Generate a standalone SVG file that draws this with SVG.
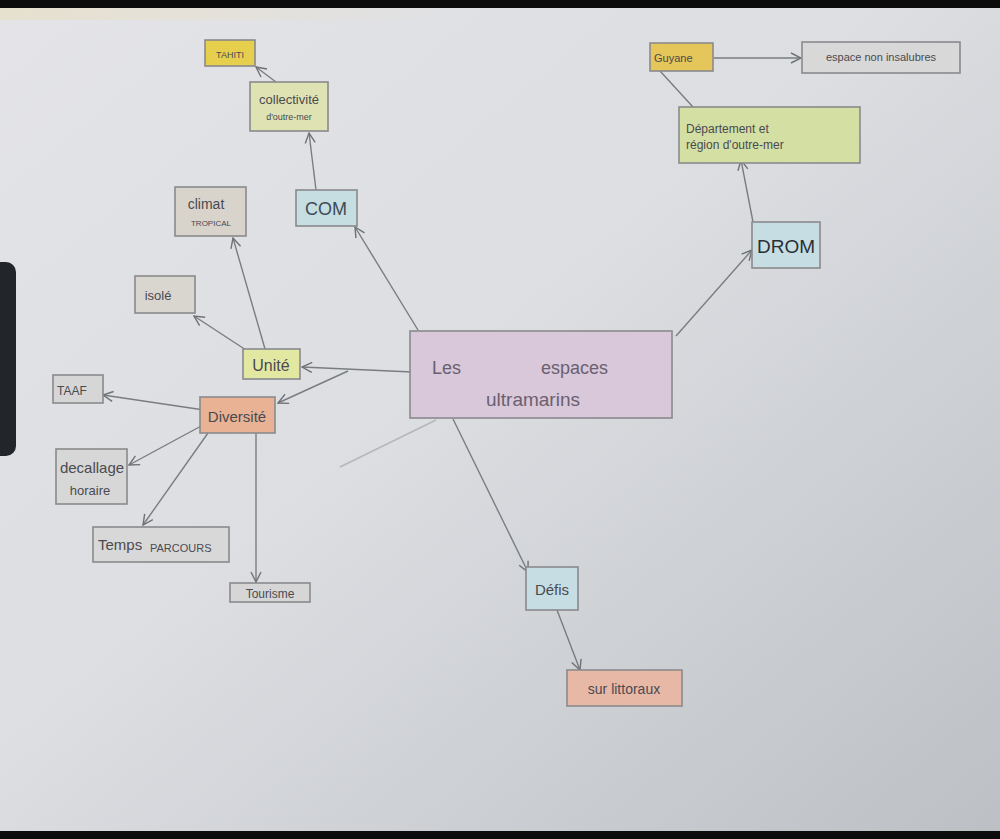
<svg xmlns="http://www.w3.org/2000/svg" width="1000" height="839" viewBox="0 0 1000 839">
<defs>
<linearGradient id="paper" x1="0" y1="0" x2="1" y2="1">
<stop offset="0" stop-color="#e4e4e8"/>
<stop offset="0.45" stop-color="#dcdee2"/>
<stop offset="1" stop-color="#bcbfc3"/>
</linearGradient>
<linearGradient id="topglow" x1="0" y1="0" x2="1" y2="0">
<stop offset="0" stop-color="#e8dfc4" stop-opacity="0.7"/>
<stop offset="1" stop-color="#e8dfc4" stop-opacity="0"/>
</linearGradient>
<marker id="arr" viewBox="0 0 12 12" refX="11" refY="6" markerWidth="12" markerHeight="12" markerUnits="userSpaceOnUse" orient="auto">
<path d="M1,1 L11,6 L1,11" fill="none" stroke="#6f7275" stroke-width="1.4"/>
</marker>
<style>
.box{stroke:#8a8a8c;stroke-width:1.6}
.t{font-family:"Liberation Sans",Arial,sans-serif}
.c{fill:none;stroke:#7a7d80;stroke-width:1.4}
.ca{fill:none;stroke:#7a7d80;stroke-width:1.4;marker-end:url(#arr)}
</style>
</defs>
<rect x="0" y="0" width="1000" height="839" fill="url(#paper)"/>
<rect x="0" y="8" width="460" height="12" fill="url(#topglow)"/>
<rect x="0" y="0" width="1000" height="8" fill="#0c0c0c"/>
<rect x="0" y="831" width="1000" height="8" fill="#0c0c0c"/>
<rect x="-12" y="262" width="28" height="194" rx="10" fill="#22262a"/>

<g id="connectors">
<line class="ca" x1="418" y1="330" x2="355" y2="227"/>
<line class="ca" x1="316" y1="190" x2="309" y2="133"/>
<line class="ca" x1="276" y1="82" x2="256" y2="67"/>
<line class="ca" x1="412" y1="372" x2="302" y2="367"/>
<line class="ca" x1="265" y1="349" x2="233" y2="238"/>
<line class="ca" x1="246" y1="350" x2="194" y2="316"/>
<line class="ca" x1="348" y1="371" x2="278" y2="403"/>
<line class="ca" x1="204" y1="410" x2="103" y2="395"/>
<line class="ca" x1="203" y1="425" x2="129" y2="465"/>
<line class="ca" x1="208" y1="433" x2="143" y2="525"/>
<line class="ca" x1="256" y1="433" x2="256" y2="582"/>
<line class="c" x1="340" y1="467" x2="436" y2="420" stroke-opacity="0.4"/>
<line class="ca" x1="453" y1="419" x2="528" y2="572"/>
<line class="ca" x1="557" y1="610" x2="580" y2="670"/>
<line class="ca" x1="676" y1="336" x2="752" y2="250"/>
<line class="ca" x1="753" y1="222" x2="741" y2="160"/>
<line class="c" x1="660" y1="71" x2="693" y2="107"/>
<line class="ca" x1="714" y1="58" x2="801" y2="58"/>
</g>

<g class="t" fill="#4a4a50">
<g id="n-tahiti"><rect class="box" x="205" y="40" width="50" height="26" fill="#e6cf4c"/><text x="230" y="58" text-anchor="middle" font-size="9">TAHITI</text></g>
<g id="n-collectivite"><rect class="box" x="250" y="82" width="78" height="49" fill="#dfe2b2"/><text x="289" y="104" text-anchor="middle" font-size="13">collectivité</text><text x="289" y="120" text-anchor="middle" font-size="9">d'outre-mer</text></g>
<g id="n-com"><rect class="box" x="296" y="190" width="61" height="36" fill="#c6dde2"/><text x="326" y="215" text-anchor="middle" font-size="18" fill="#3e4a55">COM</text></g>
<g id="n-climat"><rect class="box" x="175" y="187" width="71" height="49" fill="#d8d3cb"/><text x="206" y="209" text-anchor="middle" font-size="14">climat</text><text x="211" y="226" text-anchor="middle" font-size="8">TROPICAL</text></g>
<g id="n-isole"><rect class="box" x="135" y="276" width="60" height="37" fill="#d9d5cf"/><text x="158" y="300" text-anchor="middle" font-size="13">isolé</text></g>
<g id="n-unite"><rect class="box" x="243" y="349" width="57" height="30" fill="#e2e8a2"/><text x="271" y="371" text-anchor="middle" font-size="16">Unité</text></g>
<g id="n-center"><rect class="box" x="410" y="331" width="262" height="87" fill="#d8c8da"/><text x="432" y="374" font-size="18" fill="#6a6070">Les</text><text x="541" y="374" font-size="18" fill="#6a6070">espaces</text><text x="533" y="406" text-anchor="middle" font-size="19" fill="#6a6070">ultramarins</text></g>
<g id="n-taaf"><rect class="box" x="53" y="375" width="50" height="28" fill="#d6d6d6"/><text x="57" y="395" font-size="12">TAAF</text></g>
<g id="n-diversite"><rect class="box" x="200" y="397" width="75" height="36" fill="#e9b294"/><text x="237" y="422" text-anchor="middle" font-size="15">Diversité</text></g>
<g id="n-decallage"><rect class="box" x="56" y="449" width="71" height="55" fill="#d7d7d7"/><text x="92" y="473" text-anchor="middle" font-size="15">decallage</text><text x="90" y="495" text-anchor="middle" font-size="13">horaire</text></g>
<g id="n-temps"><rect class="box" x="93" y="527" width="136" height="35" fill="#d8d8d8"/><text x="98" y="550" font-size="15">Temps</text><text x="150" y="552" font-size="11">PARCOURS</text></g>
<g id="n-tourisme"><rect class="box" x="230" y="583" width="80" height="19" fill="#d6d6d6"/><text x="270" y="598" text-anchor="middle" font-size="12">Tourisme</text></g>
<g id="n-defis"><rect class="box" x="526" y="567" width="52" height="43" fill="#c5dde3"/><text x="552" y="595" text-anchor="middle" font-size="15">Défis</text></g>
<g id="n-littoraux"><rect class="box" x="567" y="670" width="115" height="36" fill="#e8b8a7"/><text x="624" y="694" text-anchor="middle" font-size="14">sur littoraux</text></g>
<g id="n-drom"><rect class="box" x="752" y="222" width="68" height="46" fill="#c5dde3"/><text x="786" y="253" text-anchor="middle" font-size="19" fill="#2a3036">DROM</text></g>
<g id="n-departement"><rect class="box" x="679" y="107" width="181" height="56" fill="#d4dfa4"/><text x="686" y="133" font-size="12">Département et</text><text x="686" y="149" font-size="12">région d'outre-mer</text></g>
<g id="n-guyane"><rect class="box" x="650" y="43" width="63" height="28" fill="#e4c65a"/><text x="654" y="62" font-size="11">Guyane</text></g>
<g id="n-espace"><rect class="box" x="802" y="42" width="158" height="31" fill="#d8d8d8"/><text x="881" y="61" text-anchor="middle" font-size="11">espace non insalubres</text></g>
</g>
</svg>
